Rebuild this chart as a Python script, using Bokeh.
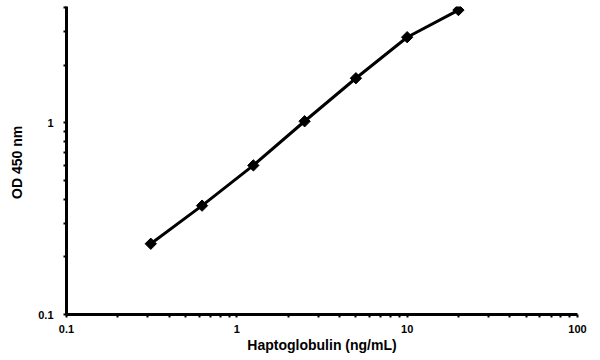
import math
from bokeh.plotting import figure
from bokeh.models import FixedTicker, Range1d
from bokeh.embed import file_html
from bokeh.resources import INLINE

conc = [0.3125, 0.625, 1.25, 2.5, 5, 10, 20]
od = [0.234, 0.37, 0.60, 1.02, 1.71, 2.80, 3.88]

x_major = [0.1, 1, 10, 100]
x_minor = [m * d for d in [0.1, 1, 10] for m in range(2, 10)]
y_major = [0.1, 1]
y_minor = [m * d for d in [0.1] for m in range(2, 10)] + [2, 3, 4]

x_title = "Haptoglobulin (ng/mL)"
y_title = "OD 450  nm"

p = figure(width=600, height=360, x_axis_type="log", y_axis_type="log",
           output_backend="svg", toolbar_location=None,
           x_range=Range1d(0.1, 100), y_range=Range1d(0.1, 4.05),
           frame_width=511, frame_height=308,
           min_border_left=66, min_border_right=23, min_border_top=6, min_border_bottom=46)
p.outline_line_color = None
p.grid.grid_line_color = None

p.line(conc, od, line_color="black", line_width=3)
p.scatter(conc, od, marker="square", angle=math.pi / 4, size=8,
          fill_color="black", line_color="black")

font = "Liberation Sans"
for ax in (p.xaxis[0], p.yaxis[0]):
    ax.axis_line_width = 3
    ax.axis_line_color = "black"
    ax.major_tick_line_width = 2
    ax.minor_tick_line_width = 2
    ax.major_tick_in = 0
    ax.major_tick_out = 3
    ax.minor_tick_in = 0
    ax.minor_tick_out = 3
    ax.major_label_text_font = font
    ax.major_label_text_font_style = "bold"
    ax.major_label_text_font_size = "11px"
    ax.major_label_text_color = "black"
    ax.axis_label_text_font = font
    ax.axis_label_text_font_style = "bold"
    ax.axis_label_text_font_size = "14px"
    ax.axis_label_text_color = "black"

p.xaxis[0].ticker = FixedTicker(ticks=x_major, minor_ticks=x_minor)
p.yaxis[0].ticker = FixedTicker(ticks=y_major, minor_ticks=y_minor)
p.xaxis[0].major_label_overrides = {0.1: "0.1", 1: "1", 10: "10", 100: "100"}
p.yaxis[0].major_label_overrides = {0.1: "0.1", 1: "1"}
p.xaxis[0].axis_label = x_title
p.yaxis[0].axis_label = y_title
p.xaxis[0].major_label_standoff = 7
p.xaxis[0].axis_label_standoff = 1
p.yaxis[0].major_label_standoff = 10
p.yaxis[0].axis_label_standoff = 10

open("out.html", "w").write(file_html(p, INLINE))
